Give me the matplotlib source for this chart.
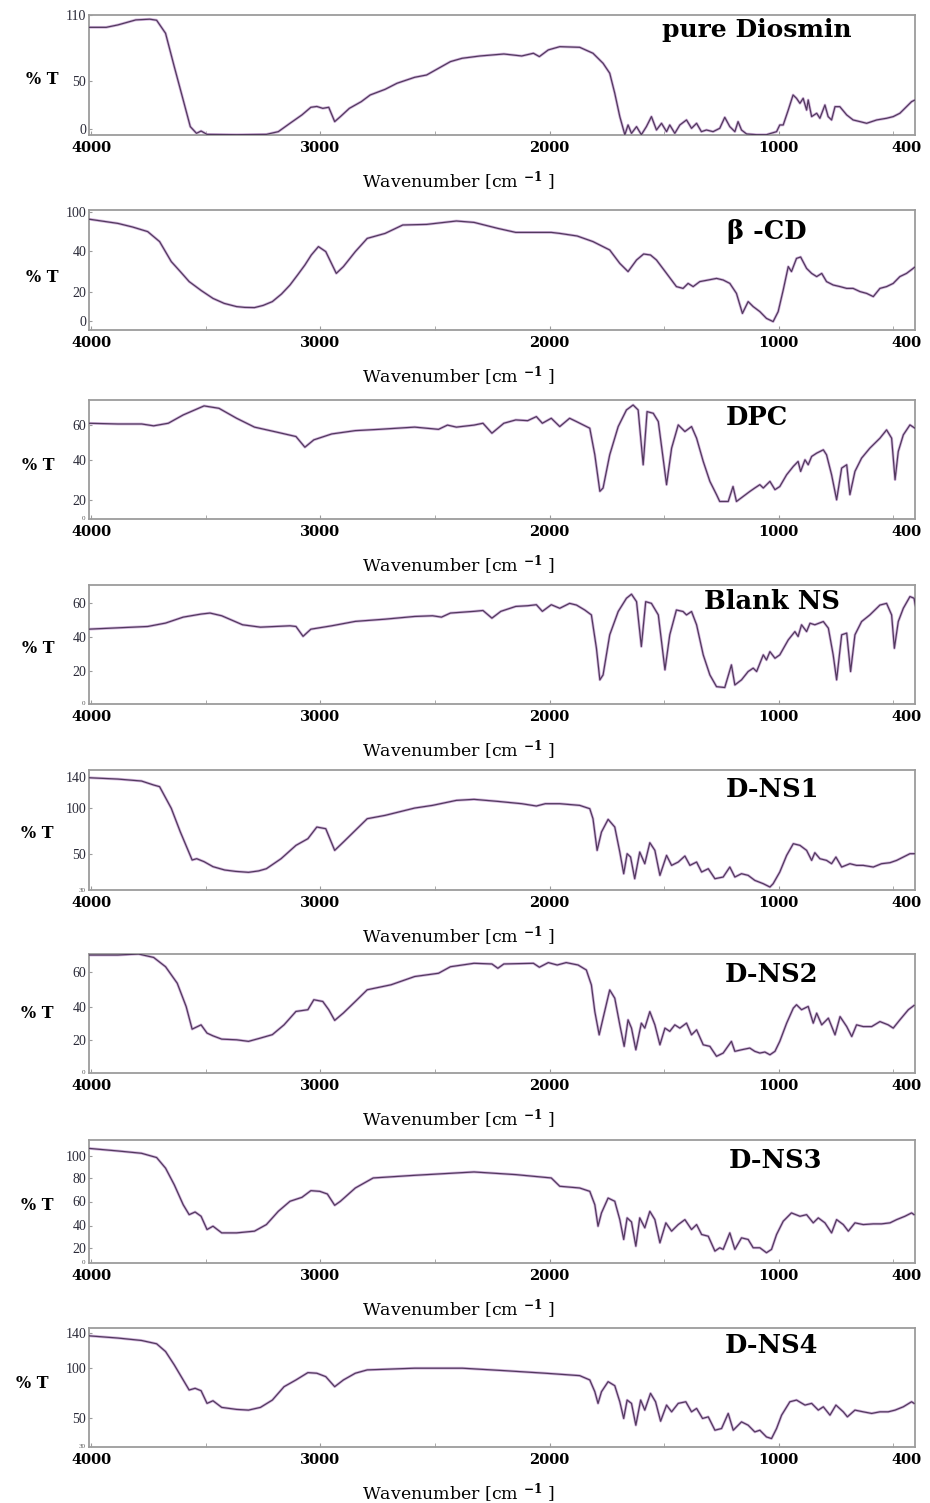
import matplotlib
matplotlib.use("Agg")
import matplotlib.pyplot as plt

plt.rcParams["mathtext.fontset"] = "dejavuserif"

# ---------------- data (wavenumber cm-1, %T) ----------------
diosmin_wn = [4015, 3935, 3884, 3806, 3745, 3715, 3676, 3638, 3599, 3568, 3541, 3521, 3495, 3366, 3236,
              3184, 3133, 3081, 3042, 3016, 2990, 2964, 2938, 2913, 2874, 2822, 2783, 2718, 2666, 2589,
              2537, 2485, 2433, 2382, 2304, 2200, 2122, 2071, 2045, 2006, 1956, 1869, 1811, 1767, 1738,
              1716, 1694, 1672, 1658, 1643, 1621, 1600, 1578, 1556, 1534, 1512, 1490, 1476, 1454, 1432,
              1403, 1381, 1359, 1338, 1316, 1287, 1258, 1236, 1214, 1192, 1178, 1163, 1141, 1097, 1054,
              1010, 996, 981, 959, 938, 923, 908, 894, 879, 872, 857, 835, 821, 799, 785, 770, 755, 734,
              704, 676, 646, 617, 573, 530, 501, 472, 443, 421, 406]
diosmin_t = [98.2, 98.2, 100.5, 105.3, 106.0, 105.0, 92.5, 60.6, 28.7, 3.2, -3.2, -1.0, -4.2, -4.5, -4.2,
             -1.6, 6.4, 14.4, 21.7, 22.5, 20.7, 21.7, 8.0, 12.8, 20.7, 27.1, 33.5, 38.9, 44.7, 50.4,
             52.6, 59.0, 65.4, 68.6, 70.8, 72.7, 70.8, 73.4, 70.2, 76.6, 79.7, 79.1, 73.4, 63.8, 54.3,
             35.1, 12.8, -4.5, 4.8, -3.2, 3.2, -4.5, 3.2, 12.8, 0.0, 6.4, -1.6, 4.8, -3.2, 4.8,
             9.6, 1.6, 6.4, -1.6, 0.0, -1.6, 1.6, 12.1, 3.2, -1.6, 8.0, 0.0, -3.8, -4.5, -4.5,
             -1.6, 4.8, 4.8, 19.1, 33.5, 30.3, 25.5, 30.3, 19.1, 28.7, 12.8, 16.0, 11.2, 23.9, 12.8, 9.6, 22.3, 22.3,
             14.4, 9.6, 8.0, 6.4, 9.6, 11.2, 12.8, 16.0, 22.3, 27.1, 28.7]

bcd_wn = [4015, 3884, 3820, 3754, 3702, 3651, 3610, 3573, 3520, 3469, 3420, 3366, 3330, 3288, 3250,
          3210, 3170, 3133, 3100, 3068, 3040, 3009, 2977, 2931,
          2900, 2848, 2796, 2718, 2641, 2537, 2407, 2330, 2226, 2148, 1993, 1956, 1880, 1811, 1738,
          1694, 1658, 1621, 1590, 1560, 1534, 1490, 1447, 1418, 1396, 1374, 1345, 1308, 1272, 1243,
          1214, 1185, 1159, 1134, 1112, 1083, 1054, 1025, 1003, 981, 959, 945, 923, 905, 879, 857,
          835, 813, 792, 763, 733, 704, 676, 646, 617, 588, 559, 530, 501, 472, 443, 414, 406]
bcd_t = [56.0, 53.8, 52.0, 49.7, 44.7, 34.7, 29.5, 24.7, 20.2, 16.3, 13.8, 12.2, 11.8, 11.7, 12.8,
         14.7, 18.5, 23.0, 28.0, 33.0, 38.0, 42.2, 39.7, 28.8,
         32.2, 39.7, 46.3, 48.8, 53.0, 53.3, 55.0, 54.3, 51.3, 49.3, 49.3, 48.8, 47.5, 44.7, 40.5,
         33.8, 29.7, 35.5, 38.5, 38.0, 35.5, 28.8, 22.2, 21.3, 23.8, 22.2, 24.7, 25.5, 26.3, 25.5,
         23.8, 18.8, 8.8, 14.7, 12.2, 9.7, 6.3, 4.7, 9.7, 20.5, 32.2, 29.7, 36.3, 37.0, 31.3, 28.8,
         27.2, 28.8, 24.7, 23.0, 22.2, 21.3, 21.3, 19.7, 18.8, 17.2, 21.3, 22.2, 23.8, 27.2, 28.8, 31.3, 32.0]

dpc_wn = [4015, 3884, 3780, 3728, 3664, 3599, 3508, 3443, 3366, 3288, 3184, 3107, 3068, 3029, 2951,
          2848, 2744, 2589, 2485, 2446, 2407, 2330, 2291, 2252, 2200, 2148, 2096, 2058, 2032, 1993,
          1956, 1913, 1883, 1854, 1825, 1803, 1781, 1767, 1738, 1701, 1665, 1636, 1614, 1592, 1575,
          1548, 1526, 1490, 1468, 1439, 1410, 1381, 1359, 1330, 1301, 1272, 1258, 1221, 1200, 1185,
          1156, 1127, 1105, 1083, 1068, 1039, 1017, 996, 966, 937, 916, 905, 886, 872, 857, 835, 806,
          792, 770, 748, 726, 704, 690, 668, 639, 603, 559, 530, 508, 493, 479, 457, 428, 406]
dpc_t = [60.9, 60.5, 60.5, 59.5, 60.9, 65.4, 70.3, 69.0, 63.6, 58.8, 55.9, 53.7, 47.9, 51.9, 55.1,
         56.9, 57.6, 58.8, 57.6, 59.9, 58.8, 59.9, 60.9, 55.5, 60.9, 62.7, 62.3, 64.5, 60.9, 63.6,
         59.1, 63.6, 61.8, 60.0, 58.2, 43.8, 24.0, 25.8, 43.8, 59.1, 68.1, 70.8, 68.1, 38.4, 67.2,
         66.3, 61.8, 27.6, 47.4, 60.0, 56.4, 59.1, 52.8, 40.2, 29.4, 22.2, 18.5, 18.5, 26.6, 18.5,
         21.2, 23.9, 25.8, 27.6, 25.8, 29.4, 24.9, 26.6, 33.0, 37.5, 40.2, 34.8, 41.1, 38.4, 42.9, 44.7, 46.5,
         43.8, 33.0, 19.4, 36.6, 38.4, 22.2, 34.8, 42.0, 47.4, 52.8, 57.3, 52.8, 30.3, 45.6, 54.6, 60.0, 58.2]

blank_wn = [4015, 3754, 3676, 3599, 3521, 3482, 3431, 3340, 3262, 3133, 3107, 3076, 3042, 2951, 2848,
            2718, 2589, 2511, 2472, 2433, 2330, 2291, 2252, 2213, 2148, 2096, 2058, 2032, 1993, 1956,
            1913, 1883, 1847, 1818, 1796, 1781, 1767, 1738, 1701, 1665, 1643, 1621, 1600, 1581, 1556,
            1526, 1497, 1476, 1447, 1418, 1403, 1381, 1359, 1330, 1301, 1272, 1236, 1207, 1192, 1163,
            1134, 1112, 1097, 1068, 1054, 1039, 1017, 996, 959, 930, 916, 901, 879, 864, 843, 806, 784,
            763, 748, 726, 704, 687, 668, 639, 603, 559, 530, 508, 496, 479, 457, 428, 410, 404]
blank_t = [44.4, 46.0, 48.0, 51.5, 53.3, 53.9, 52.3, 47.0, 45.6, 46.4, 46.0, 40.2, 44.4, 46.4, 49.0,
           50.3, 51.9, 52.3, 51.5, 53.9, 54.9, 55.4, 50.9, 54.9, 57.8, 58.2, 58.8, 54.9, 58.8, 56.7,
           59.6, 58.6, 55.7, 52.8, 33.2, 14.6, 17.5, 41.1, 54.8, 62.6, 65.0, 60.6, 34.2, 60.6, 59.6,
           52.8, 20.5, 41.1, 55.7, 54.8, 52.8, 54.8, 47.0, 29.3, 17.5, 10.6, 10.1, 23.4, 11.6, 14.6,
           19.5, 21.5, 19.5, 29.3, 26.3, 31.2, 27.3, 29.3, 38.1, 43.0, 40.1, 47.0, 43.0, 47.9, 47.0, 48.9, 45.0,
           29.3, 14.6, 41.1, 42.1, 19.5, 41.1, 48.9, 52.8, 58.6, 59.6, 52.8, 33.2, 48.9, 56.7, 63.6, 62.6, 58.0]

dns1_wn = [4015, 3884, 3781, 3728, 3702, 3651, 3612, 3560, 3540, 3508, 3469, 3418, 3370, 3314, 3270,
           3236, 3172, 3107, 3055, 3016, 2977, 2938, 2900, 2848, 2796, 2718, 2589, 2511, 2407, 2330,
           2226, 2122, 2058, 2019, 1956, 1869, 1825, 1811, 1793, 1774, 1745, 1716, 1694, 1677, 1662,
           1647, 1629, 1607, 1585, 1563, 1541, 1519, 1490, 1468, 1439, 1410, 1388, 1359, 1337, 1308,
           1279, 1243, 1214, 1192, 1163, 1134, 1105, 1068, 1039, 1025, 996, 966, 937, 908, 879, 857,
           843, 821, 792, 770, 751, 726, 690, 661, 632, 588, 552, 515, 486, 457, 428, 408]
dns1_t = [132.7, 131.2, 129.1, 124.8, 123.0, 99.6, 74.4, 43.8, 45.2, 42.0, 36.6, 33.0, 31.5, 30.5, 32.0,
          34.4, 45.2, 59.6, 66.8, 79.4, 77.6, 54.2, 63.2, 75.8, 88.4, 92.0, 99.9, 102.8, 108.2, 109.3,
          107.1, 104.6, 102.1, 104.6, 104.6, 102.8, 99.2, 88.4, 54.2, 74.0, 87.7, 79.4, 52.4, 29.0, 50.6,
          47.0, 23.6, 52.4, 39.8, 62.5, 54.2, 27.2, 48.8, 38.0, 41.6, 48.1, 38.0, 41.6, 30.8, 34.4,
          23.6, 25.4, 36.2, 25.4, 29.0, 27.2, 21.8, 18.2, 14.6, 18.2, 30.8, 48.8, 61.4, 59.6, 54.2, 43.4,
          51.7, 45.2, 43.4, 39.8, 47.0, 36.2, 39.8, 38.0, 38.0, 36.2, 39.8, 40.9, 43.4, 47.0, 50.6, 50.6]

dns2_wn = [4015, 3884, 3794, 3728, 3676, 3625, 3586, 3560, 3521, 3495, 3469, 3431, 3366, 3314, 3262,
           3210, 3159, 3107, 3055, 3029, 2990, 2964, 2938, 2900, 2848, 2796, 2692, 2589, 2485, 2433,
           2330, 2252, 2226, 2200, 2071, 2045, 2006, 1967, 1928, 1876, 1840, 1818, 1803, 1784, 1767,
           1738, 1716, 1694, 1675, 1658, 1643, 1624, 1600, 1585, 1563, 1541, 1519, 1497, 1476, 1454,
           1432, 1403, 1381, 1359, 1330, 1301, 1272, 1243, 1207, 1192, 1163, 1127, 1105, 1083, 1061,
           1039, 1017, 996, 966, 937, 923, 901, 872, 850, 835, 813, 784, 755, 733, 704, 682, 661, 632,
           595, 559, 523, 501, 472, 435, 410]
dns2_t = [69.7, 69.7, 70.3, 68.3, 62.9, 53.3, 39.7, 26.6, 29.1, 24.3, 22.7, 20.8, 20.4, 19.5, 21.4,
          23.4, 29.1, 36.9, 37.9, 43.7, 42.7, 37.9, 31.7, 36.0, 42.7, 49.5, 52.4, 57.2, 59.1, 62.9,
          64.9, 64.5, 62.0, 64.5, 64.9, 62.6, 65.3, 63.9, 65.3, 63.9, 61.0, 52.3, 36.8, 23.3, 33.0,
          49.4, 44.6, 29.1, 16.6, 32.0, 27.2, 14.6, 30.1, 27.2, 36.8, 29.1, 17.5, 27.2, 25.3, 29.1,
          27.2, 30.1, 23.3, 26.2, 17.5, 16.6, 10.8, 12.7, 19.5, 13.7, 14.6, 15.6, 13.7, 12.7, 13.3,
          11.7, 13.7, 19.5, 30.1, 38.8, 40.8, 37.9, 39.8, 30.1, 35.9, 29.1, 33.0, 23.3, 33.9, 28.1, 22.3, 29.1, 28.1,
          28.1, 31.0, 29.1, 27.2, 32.0, 37.9, 40.4]

dns3_wn = [4015, 3884, 3781, 3715, 3676, 3638, 3599, 3573, 3547, 3521, 3495, 3469, 3431, 3366, 3288,
           3236, 3184, 3133, 3081, 3042, 3003, 2970, 2938, 2913, 2848, 2770, 2589, 2330, 2148, 1993,
           1956, 1869, 1825, 1803, 1789, 1774, 1745, 1716, 1694, 1677, 1662, 1643, 1624, 1607, 1585,
           1563, 1541, 1519, 1493, 1468, 1439, 1410, 1381, 1359, 1337, 1308, 1279, 1258, 1243, 1214,
           1192, 1163, 1134, 1112, 1083, 1054, 1032, 1010, 981, 945, 908, 879, 850, 828, 799, 770, 748,
           719, 697, 668, 632, 588, 552, 515, 486, 450, 421, 410]
dns3_t = [106.4, 104.1, 102.1, 98.4, 89.2, 74.8, 57.5, 48.9, 51.2, 47.5, 36.0, 38.9, 33.1, 33.1, 34.6,
          40.3, 51.8, 60.5, 63.9, 69.7, 69.1, 66.8, 57.0, 60.5, 72.0, 80.7, 83.0, 85.9, 83.6, 80.7,
          73.5, 72.0, 69.1, 57.5, 38.9, 50.4, 63.3, 60.5, 44.6, 27.4, 46.1, 42.6, 21.6, 46.1, 37.5,
          51.8, 44.6, 24.5, 41.8, 34.6, 40.3, 44.6, 36.0, 40.3, 31.7, 30.2, 17.3, 20.2, 18.8, 33.1,
          18.8, 28.8, 27.4, 20.2, 20.2, 15.9, 18.8, 31.7, 43.2, 50.4, 47.5, 48.9, 41.8, 46.1, 41.8, 33.1, 44.6,
          40.3, 34.6, 41.8, 40.3, 40.9, 40.9, 41.8, 44.6, 47.5, 50.4, 48.9]

dns4_wn = [4015, 3884, 3781, 3715, 3676, 3638, 3599, 3573, 3547, 3521, 3495, 3469, 3431, 3366, 3314,
           3262, 3210, 3159, 3107, 3055, 3016, 2977, 2938, 2900, 2848, 2796, 2589, 2381, 2200, 2019,
           1956, 1869, 1825, 1803, 1789, 1774, 1745, 1716, 1694, 1677, 1662, 1643, 1624, 1603, 1585,
           1560, 1538, 1516, 1490, 1468, 1439, 1406, 1381, 1359, 1333, 1308, 1279, 1250, 1221, 1199,
           1163, 1134, 1105, 1083, 1054, 1032, 1010, 988, 952, 923, 886, 857, 828, 806, 777, 751, 719,
           701, 668, 632, 595, 559, 523, 493, 457, 421, 410]
dns4_t = [132.3, 130.0, 127.6, 124.3, 116.6, 103.3, 88.3, 78.3, 80.0, 77.6, 65.0, 67.6, 61.0, 59.0, 58.3,
          61.0, 68.3, 81.6, 88.3, 95.6, 95.0, 91.6, 81.6, 88.3, 95.0, 98.3, 100.0, 100.0, 97.6, 95.0,
          94.0, 92.6, 88.3, 76.6, 65.0, 76.6, 86.6, 82.6, 66.6, 50.0, 68.3, 65.0, 43.3, 68.3, 58.3,
          75.0, 66.6, 47.3, 63.3, 56.6, 65.0, 66.6, 56.6, 60.0, 50.0, 51.6, 38.3, 40.0, 55.0, 38.3,
          46.6, 43.3, 36.6, 38.3, 31.6, 30.0, 40.0, 53.3, 66.6, 68.3, 63.3, 65.0, 58.3, 61.6, 53.3, 63.3, 56.6,
          51.6, 58.3, 56.6, 55.0, 56.6, 56.6, 58.3, 61.6, 66.6, 65.0]

sample_names = ["pure Diosmin", "\u03b2 -CD", "DPC", "Blank NS", "D-NS1", "D-NS2", "D-NS3", "D-NS4"]
x_tick_values = [4000, 3000, 2000, 1000]
x_tick_labels = ["4000", "3000", "2000", "1000", "400"]
y_tick_labels = [["0", "50", "110"], ["0", "20", "40", "100"], ["20", "40", "60"], ["20", "40", "60"],
                 ["50", "100", "140"], ["20", "40", "60"], ["20", "40", "60", "80", "100"],
                 ["50", "100", "140"]]
y_tick_values = [[0.7, 47, 110], [5, 19.7, 40, 59.7], [19.5, 41, 60], [20, 39.6, 60],
                 [50, 100.3, 133.8], [20, 39.7, 60], [20, 39.5, 60.3, 80.5, 100], [50, 100, 135]]
corner_labels = ["", "", "0", "0", "30", "0", "0", "30"]

spectra = [(diosmin_wn, diosmin_t), (bcd_wn, bcd_t), (dpc_wn, dpc_t), (blank_wn, blank_t),
           (dns1_wn, dns1_t), (dns2_wn, dns2_t), (dns3_wn, dns3_t), (dns4_wn, dns4_t)]

# ---------------- layout (pixels) ----------------
W, H = 930, 1503
fig = plt.figure(figsize=(W / 100, H / 100), dpi=100)
fig.patch.set_facecolor("white")

L, R = 89, 915
tops = [15, 210, 400, 585, 770, 954, 1140, 1328]
bots = [135, 330, 519, 704, 890, 1073, 1263, 1447]
ylims = [(-4.8, 110), (0.5, 60.5), (9, 73.5), (0.4, 70.4), (11.4, 141), (1.1, 70.3), (7, 113.6), (21.6, 140)]
title_pos = [(757, 37), (767, 239), (757, 425), (772, 609), (773, 797), (772, 982), (776, 1168), (771, 1353)]
pt_pos = [(42, 80), (42, 278), (38, 465), (38, 648), (37, 833), (37, 1013), (37, 1205), (32, 1383)]

serif = "DejaVu Serif"
frame_col = "#9c9c9c"

for i, (wn, tv) in enumerate(spectra):
    T, B = tops[i], bots[i]
    ax = fig.add_axes([L / W, 1 - B / H, (R - L) / W, (B - T) / H])
    ax.plot(wn, tv, color="#d2b4dc", lw=2.0, solid_joinstyle="round", zorder=2)
    ax.plot(wn, tv, color="#523a5e", lw=0.9, solid_joinstyle="round", zorder=3)
    ax.set_xlim(4010, 406)
    ax.set_ylim(*ylims[i])
    for s in ax.spines.values():
        s.set_color(frame_col)
        s.set_linewidth(1.3)
    ax.set_xticks(x_tick_values + [445])
    ax.set_xticklabels(x_tick_labels, fontfamily=serif, fontweight="bold", fontsize=10.5)
    ax.set_xticks([3500, 2500, 1500, 500], minor=True)
    ax.tick_params(axis="x", which="both", direction="in", length=3, color=frame_col, pad=4.5)
    ax.xaxis.get_major_ticks()[-1].tick1line.set_visible(False)
    ax.set_yticks(y_tick_values[i])
    ax.set_yticklabels(y_tick_labels[i], fontfamily="Liberation Serif", fontsize=10, color="#2a2a38")
    ax.tick_params(axis="y", direction="in", length=2, color=frame_col, pad=2)
    if corner_labels[i]:
        ax.text(-0.004, 0.0, corner_labels[i], transform=ax.transAxes, ha="right", va="center",
                fontsize=5, fontfamily="Liberation Serif", color="#555555")
    # sample title
    tx, ty = title_pos[i]
    fig.text(tx / W, 1 - ty / H, sample_names[i], ha="center", va="baseline",
             fontfamily=serif, fontweight="bold", fontsize=18 if i == 0 else 18.5)
    # %T
    px, py = pt_pos[i]
    fig.text(px / W, 1 - py / H, "% T", ha="center", va="center",
             fontfamily=serif, fontweight="bold", fontsize=11.5)
    # x label
    fig.text(458 / W, 1 - (B + 52) / H, r"Wavenumber [cm $^{\mathbf{-1}}$ ]", ha="center",
             va="baseline", fontfamily=serif, fontsize=12.5)

fig.savefig("out.png", dpi=100, facecolor="white")
